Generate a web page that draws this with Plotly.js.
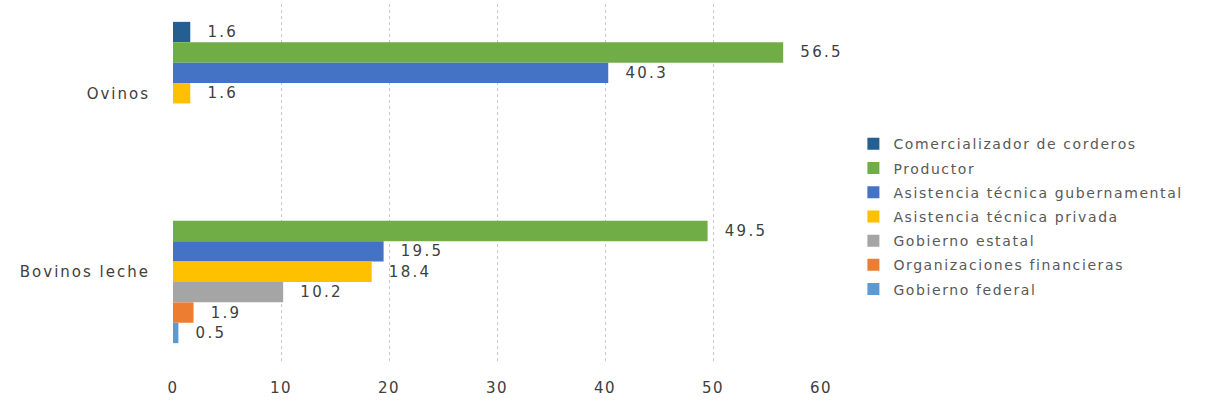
<!DOCTYPE html>
<html>
<head>
<meta charset="utf-8">
<script src="https://cdn.plot.ly/plotly-3.0.1.min.js"></script>
<style>
  body { margin: 0; background: #fff; }
  #grafica { width: 1209px; height: 407px; }
  /* el original tiene el texto muy espaciado */
  .ytick text { letter-spacing: 2px; }
  .xtick text { letter-spacing: 1.5px; }
  .bartext { letter-spacing: 2.3px; }
  .legendtext { letter-spacing: 1.6px; }
</style>
</head>
<body>
<div id="grafica"></div>
<script>
let anchoGrafica = 1209, altoGrafica = 407, colorTexto = '#404040';

const categorias = ['Ovinos', 'Bovinos leche'];

const series = ['Comercializador de corderos', 'Productor', 'Asistencia técnica gubernamental',
    'Asistencia técnica privada', 'Gobierno estatal', 'Organizaciones financieras', 'Gobierno federal'];

const colores = ['#255e91', '#70ad47', '#4472c4', '#ffc000', '#a5a5a5', '#ed7d31', '#5b9bd5'];

// valores por serie: [Ovinos, Bovinos leche]
const comercializador = [1.6, null];
const productor = [56.5, 49.5];
const asistGubernamental = [40.3, 19.5];
const asistPrivada = [1.6, 18.4];
const gobiernoEstatal = [null, 10.2];
const organizaciones = [null, 1.9];
const gobiernoFederal = [null, 0.5];

const valores = [comercializador, productor, asistGubernamental, asistPrivada,
    gobiernoEstatal, organizaciones, gobiernoFederal];

const ticksX = [0, 10, 20, 30, 40, 50, 60];

const traces = series.map((nombre, i) => ({
    name: nombre,
    legendgroup: 'g' + i,
    type: 'bar',
    orientation: 'h',
    y: categorias,
    x: valores[i],
    text: valores[i].map(v => v == null ? '' : '\u00a0\u00a0' + v.toFixed(1)),
    textposition: 'outside',
    cliponaxis: false,
    textfont: { family: 'DejaVu Sans', size: 15, color: colorTexto },
    marker: { color: colores[i] },
    hoverinfo: 'x+name'
}));

const layout = {
    width: anchoGrafica,
    height: altoGrafica,
    margin: { l: 173, r: 388, t: 4, b: 46 },
    barmode: 'group',
    bargap: 0.2,
    bargroupgap: 0,
    paper_bgcolor: '#ffffff',
    plot_bgcolor: '#ffffff',
    font: { family: 'DejaVu Sans', size: 15, color: colorTexto },
    xaxis: {
        range: [0, 60],
        tickvals: ticksX,
        showgrid: true,
        gridcolor: '#c8c8c8',
        griddash: 'dot',
        zeroline: false,
        showline: false,
        ticks: '',
        ticklabelstandoff: 16,
        tickfont: { family: 'DejaVu Sans', size: 15, color: colorTexto }
    },
    yaxis: {
        autorange: 'reversed',
        showgrid: false,
        zeroline: false,
        showline: false,
        ticks: '',
        ticklabelstandoff: 22,
        tickfont: { family: 'DejaVu Sans', size: 15, color: colorTexto }
    },
    legend: {
        x: 1.05,
        xanchor: 'left',
        y: 0.652,
        yanchor: 'top',
        font: { family: 'DejaVu Sans', size: 14, color: '#595959' },
        traceorder: 'grouped',
        tracegroupgap: 3,
        itemwidth: 30
    },
    showlegend: true
};

Plotly.newPlot('grafica', traces, layout, { displayModeBar: false });
</script>
</body>
</html>
